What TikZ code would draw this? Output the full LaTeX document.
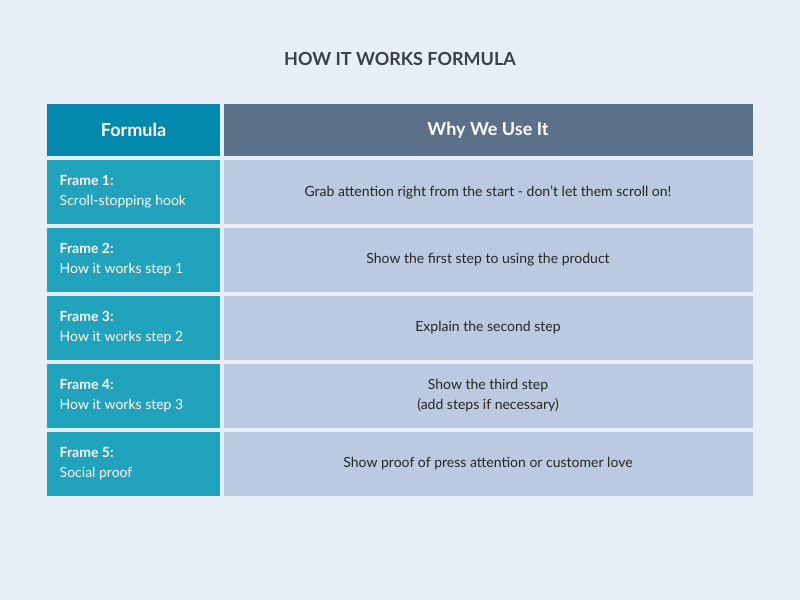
\documentclass[tikz,border=0pt]{standalone}
\usepackage{fontspec}
\setmainfont{Lato}
\definecolor{bg}{HTML}{E8EEF8}
\definecolor{hA}{HTML}{0289AD}
\definecolor{hB}{HTML}{5B7089}
\definecolor{cA}{HTML}{21A3BE}
\definecolor{cB}{HTML}{BBCAE0}
\definecolor{tt}{HTML}{3A3F4A}
\begin{document}
\begin{tikzpicture}[x=0.75pt,y=-0.75pt,
  hd/.style={font=\fontsize{13.5}{16}\selectfont\bfseries,text=white},
  lc/.style={font=\fontsize{10.5}{15}\selectfont,text=white,anchor=west,align=left},
  rc/.style={font=\fontsize{10.5}{15}\selectfont,text=black!85,align=center}]
\fill[bg] (0,0) rectangle (800,600);
\node[font=\fontsize{13.5}{16}\selectfont\bfseries,text=tt] (title) at (400,59) {HOW IT WORKS FORMULA};
\fill[hA] (47,104) rectangle (220,156);
\fill[hB] (223.5,104) rectangle (753,156);
\node[hd] (h1) at (133.5,130) {Formula};
\node[hd] (h2) at (488,130) {Why We Use It};
\foreach \i/\a/\b/\c in {0/Frame 1:/Scroll-stopping hook/{Grab attention right from the start - don't let them scroll on!},
  1/Frame 2:/How it works step 1/{Show the first step to using the product},
  2/Frame 3:/How it works step 2/{Explain the second step},
  3/Frame 4:/How it works step 3/{Show the third step\\(add steps if necessary)},
  4/Frame 5:/Social proof/{Show proof of press attention or customer love}}{
  \pgfmathsetmacro\yt{160+68*\i}
  \fill[cA] (47,\yt) rectangle (220,\yt+64);
  \fill[cB] (223.5,\yt) rectangle (753,\yt+64);
  \node[lc] (l\i) at (55,\yt+32) {\textbf{\a}\\\b};
  \node[rc] (r\i) at (488,\yt+32) {\c};
}
\end{tikzpicture}
\end{document}
